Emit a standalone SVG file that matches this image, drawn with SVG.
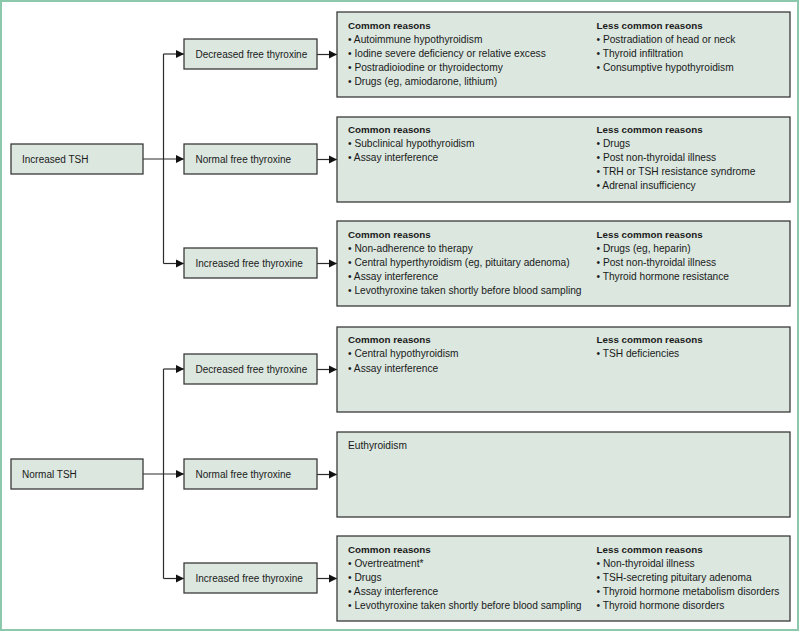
<svg xmlns="http://www.w3.org/2000/svg" width="800" height="632" viewBox="0 0 800 632">
<defs>
<style>
.frame{fill:#ffffff;stroke:#8cc8ac;stroke-width:2}
.box{fill:#dbe7df;stroke:#3a3a3a;stroke-width:1.3}
.conn{fill:none;stroke:#2b2b2b;stroke-width:1.2}
text{font-family:"Liberation Sans",Arial,sans-serif;fill:#1a1a1a}
.lbl{font-size:10px}
.t{font-size:10.2px}
.h{font-size:9.8px;font-weight:bold}
</style>
<marker id="arr" markerUnits="userSpaceOnUse" markerWidth="9" markerHeight="9" refX="8" refY="4.5" orient="auto">
<path d="M0,0.5 L8,4.5 L0,8.5 z" fill="#111"/>
</marker>
</defs>
<rect class="frame" x="1" y="1" width="797" height="629"/>

<g id="connectors">
<path class="conn" d="M163.5,54 V263.5"/>
<path class="conn" d="M163.5,54 H184" marker-end="url(#arr)"/>
<path class="conn" d="M163.5,263.5 H184" marker-end="url(#arr)"/>
<path class="conn" d="M143,159 H184" marker-end="url(#arr)"/>
<path class="conn" d="M317,54.5 H337" marker-end="url(#arr)"/>
<path class="conn" d="M317,159.5 H337" marker-end="url(#arr)"/>
<path class="conn" d="M317,263.5 H337" marker-end="url(#arr)"/>
<path class="conn" d="M143,474 H184" marker-end="url(#arr)"/>
<path class="conn" d="M163.5,369 V578.5"/>
<path class="conn" d="M163.5,369 H184" marker-end="url(#arr)"/>
<path class="conn" d="M163.5,578.5 H184" marker-end="url(#arr)"/>
<path class="conn" d="M317,369.5 H337" marker-end="url(#arr)"/>
<path class="conn" d="M317,474.5 H337" marker-end="url(#arr)"/>
<path class="conn" d="M317,578.5 H337" marker-end="url(#arr)"/>
</g>

<g id="increased-tsh">
<rect class="box" x="11" y="144" width="132" height="30"/>
<text class="lbl" x="22" y="162.5">Increased TSH</text>
</g>
<g id="normal-tsh">
<rect class="box" x="11" y="459" width="132" height="30"/>
<text class="lbl" x="22" y="477.5">Normal TSH</text>
</g>

<g id="inc-dec-ft4">
<rect class="box" x="184" y="39" width="133" height="30"/>
<text class="lbl" x="195.5" y="57.5">Decreased free thyroxine</text>
</g>
<g id="inc-norm-ft4">
<rect class="box" x="184" y="144" width="133" height="30"/>
<text class="lbl" x="195.5" y="162.5">Normal free thyroxine</text>
</g>
<g id="inc-inc-ft4">
<rect class="box" x="184" y="248" width="133" height="30"/>
<text class="lbl" x="195.5" y="266.5">Increased free thyroxine</text>
</g>
<g id="norm-dec-ft4">
<rect class="box" x="184" y="354" width="133" height="30"/>
<text class="lbl" x="195.5" y="372.5">Decreased free thyroxine</text>
</g>
<g id="norm-norm-ft4">
<rect class="box" x="184" y="459" width="133" height="30"/>
<text class="lbl" x="195.5" y="477.5">Normal free thyroxine</text>
</g>
<g id="norm-inc-ft4">
<rect class="box" x="184" y="563" width="133" height="30"/>
<text class="lbl" x="195.5" y="581.5">Increased free thyroxine</text>
</g>

<g id="reasons-1">
<rect class="box" x="337" y="12" width="453" height="85"/>
<text class="h" x="348" y="28.5">Common reasons</text>
<text class="t" x="348" y="42.7">• Autoimmune hypothyroidism</text>
<text class="t" x="348" y="56.8">• Iodine severe deficiency or relative excess</text>
<text class="t" x="348" y="70.9">• Postradioiodine or thyroidectomy</text>
<text class="t" x="348" y="85">• Drugs (eg, amiodarone, lithium)</text>
<text class="h" x="596.5" y="28.5">Less common reasons</text>
<text class="t" x="596.5" y="42.7">• Postradiation of head or neck</text>
<text class="t" x="596.5" y="56.8">• Thyroid infiltration</text>
<text class="t" x="596.5" y="70.9">• Consumptive hypothyroidism</text>
</g>

<g id="reasons-2">
<rect class="box" x="337" y="117" width="453" height="85"/>
<text class="h" x="348" y="133">Common reasons</text>
<text class="t" x="348" y="147.1">• Subclinical hypothyroidism</text>
<text class="t" x="348" y="161.2">• Assay interference</text>
<text class="h" x="596.5" y="133">Less common reasons</text>
<text class="t" x="596.5" y="147.1">• Drugs</text>
<text class="t" x="596.5" y="161.2">• Post non-thyroidal illness</text>
<text class="t" x="596.5" y="175.3">• TRH or TSH resistance syndrome</text>
<text class="t" x="596.5" y="189.4">• Adrenal insufficiency</text>
</g>

<g id="reasons-3">
<rect class="box" x="337" y="221" width="453" height="85"/>
<text class="h" x="348" y="237.5">Common reasons</text>
<text class="t" x="348" y="251.6">• Non-adherence to therapy</text>
<text class="t" x="348" y="265.7">• Central hyperthyroidism (eg, pituitary adenoma)</text>
<text class="t" x="348" y="279.8">• Assay interference</text>
<text class="t" x="348" y="293.9">• Levothyroxine taken shortly before blood sampling</text>
<text class="h" x="596.5" y="237.5">Less common reasons</text>
<text class="t" x="596.5" y="251.6">• Drugs (eg, heparin)</text>
<text class="t" x="596.5" y="265.7">• Post non-thyroidal illness</text>
<text class="t" x="596.5" y="279.8">• Thyroid hormone resistance</text>
</g>

<g id="reasons-4">
<rect class="box" x="337" y="327" width="453" height="85"/>
<text class="h" x="348" y="343.3">Common reasons</text>
<text class="t" x="348" y="357.4">• Central hypothyroidism</text>
<text class="t" x="348" y="371.5">• Assay interference</text>
<text class="h" x="596.5" y="343.3">Less common reasons</text>
<text class="t" x="596.5" y="357.4">• TSH deficiencies</text>
</g>

<g id="reasons-5">
<rect class="box" x="337" y="432" width="453" height="85"/>
<text class="t" x="348" y="448.5">Euthyroidism</text>
</g>

<g id="reasons-6">
<rect class="box" x="337" y="536" width="453" height="85"/>
<text class="h" x="348" y="552.5">Common reasons</text>
<text class="t" x="348" y="566.6">• Overtreatment*</text>
<text class="t" x="348" y="580.7">• Drugs</text>
<text class="t" x="348" y="594.8">• Assay interference</text>
<text class="t" x="348" y="608.9">• Levothyroxine taken shortly before blood sampling</text>
<text class="h" x="596.5" y="552.5">Less common reasons</text>
<text class="t" x="596.5" y="566.6">• Non-thyroidal illness</text>
<text class="t" x="596.5" y="580.7">• TSH-secreting pituitary adenoma</text>
<text class="t" x="596.5" y="594.8">• Thyroid hormone metabolism disorders</text>
<text class="t" x="596.5" y="608.9">• Thyroid hormone disorders</text>
</g>
</svg>
